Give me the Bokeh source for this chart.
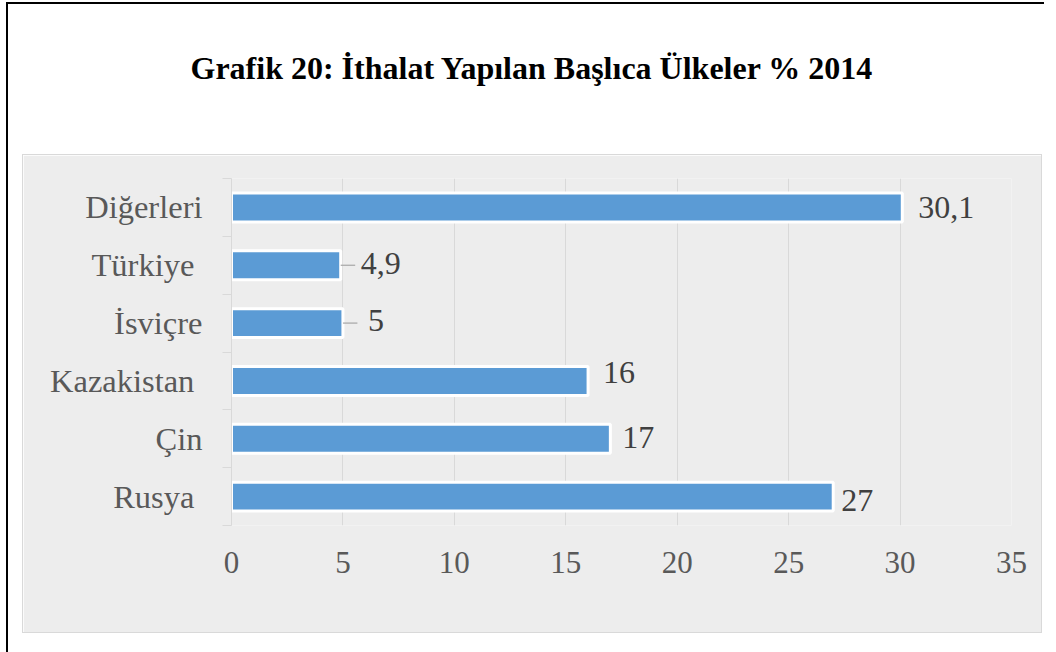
from bokeh.plotting import figure
from bokeh.models import Range1d, FixedTicker, ColumnDataSource
from bokeh.layouts import column
from bokeh.core.properties import value
from bokeh.embed import file_html
from bokeh.resources import INLINE

# ---- data ----
title_text = "Grafik 20: İthalat Yapılan Başlıca Ülkeler % 2014"
categories = ["Rusya", "Çin", "Kazakistan", "İsviçre", "Türkiye", "Diğerleri"]
shares = [27, 17, 16, 5, 4.9, 30.1]
category_tick_labels = ["Rusya\u00a0", "Çin", "Kazakistan\u00a0", "İsviçre", "Türkiye\u00a0", "Diğerleri"]
x_ticks = [0, 5, 10, 15, 20, 25, 30, 35]
leader_categories = ["İsviçre", "Türkiye"]

# ---- styles ----
FONT = "'Liberation Serif'"
FONT2 = "Times New Roman"
BG = "#ededed"
GRID = "#d9d9d9"
BAR = "#5b9bd5"
label_dx = [8, 12, 15, 25, 20, 16]
label_dy = [4, -1, -8, -3, -2, 0]


def fmt(v):
    return f"{v:g}".replace(".", ",")


n = len(categories)
slot_centers = [i + 0.5 for i in range(n)]
slot_edges = list(range(n + 1))

src = ColumnDataSource(dict(y=slot_centers, cat=categories, val=shares,
                            lbl=[fmt(v) for v in shares],
                            dx=label_dx, dy=label_dy))
lead_idx = [i for i, c in enumerate(categories) if c in leader_categories]
lead_src = ColumnDataSource(dict(y=[slot_centers[i] for i in lead_idx],
                                 x0=[shares[i] for i in lead_idx],
                                 x1=[shares[i] + 0.65 for i in lead_idx]))

# ---- title figure ----
p0 = figure(width=1036, height=150, toolbar_location=None, output_backend="svg",
            x_axis_location=None, y_axis_location=None,
            min_border_top=86, min_border_bottom=0, min_border_left=16, min_border_right=0)
p0.title.text = title_text
p0.title.align = "left"
p0.title.offset = -26
p0.title.text_font = FONT2
p0.title.text_font_size = "32px"
p0.title.text_font_style = "bold"
p0.title.text_color = "black"
p0.outline_line_color = None
p0.grid.visible = False
p0.background_fill_color = "white"
p0.border_fill_color = "white"

# ---- main chart ----
p = figure(width=1020, height=479,
           x_range=Range1d(0, 35), y_range=Range1d(0, n),
           toolbar_location=None, output_backend="svg",
           min_border_left=208, min_border_right=32,
           min_border_top=23, min_border_bottom=109,
           background_fill_color=BG, border_fill_color=BG,
           styles={"border": "1px solid #d9d9d9"})
p.margin = (0, 0, 20, 14)
p.outline_line_color = None

ya = p.yaxis[0]
ya.ticker = FixedTicker(ticks=slot_centers, minor_ticks=slot_edges)
ya.major_label_overrides = dict(zip(slot_centers, category_tick_labels))
ya.axis_line_color = GRID
ya.major_tick_line_color = None
ya.major_tick_out = 0
ya.major_tick_in = 0
ya.minor_tick_line_color = GRID
ya.minor_tick_out = 9
ya.minor_tick_in = 0
ya.major_label_standoff = 20
ya.major_label_text_font = FONT
ya.major_label_text_font_size = "32.5px"
ya.major_label_text_color = "#595959"

xa = p.xaxis[0]
xa.ticker = FixedTicker(ticks=x_ticks)
xa.axis_line_color = None
xa.major_tick_line_color = None
xa.minor_tick_line_color = None
xa.major_label_text_font = FONT
xa.major_label_text_font_size = "31px"
xa.major_label_text_color = "#595959"
xa.major_label_standoff = 20

p.xgrid.grid_line_color = GRID
p.ygrid.visible = False

p.hbar(y="y", left=0, right="val", height=0.5, source=src,
       fill_color=BAR, line_color="white", line_width=3)
p.segment(x0="x0", y0="y", x1="x1", y1="y", source=lead_src,
          line_color="#a6a6a6", line_width=1.2)
p.text(x="val", y="y", text="lbl", x_offset="dx", y_offset="dy", source=src,
       text_font=value(FONT2), text_font_size="32px", text_color="#404040",
       text_baseline="middle", text_align="left")

layout = column(p0, p, margin=(2, 0, 0, 6),
                styles={"border-left": "2px solid black",
                        "border-top": "2px solid black"})

open("out.html", "w").write(file_html(layout, INLINE))
